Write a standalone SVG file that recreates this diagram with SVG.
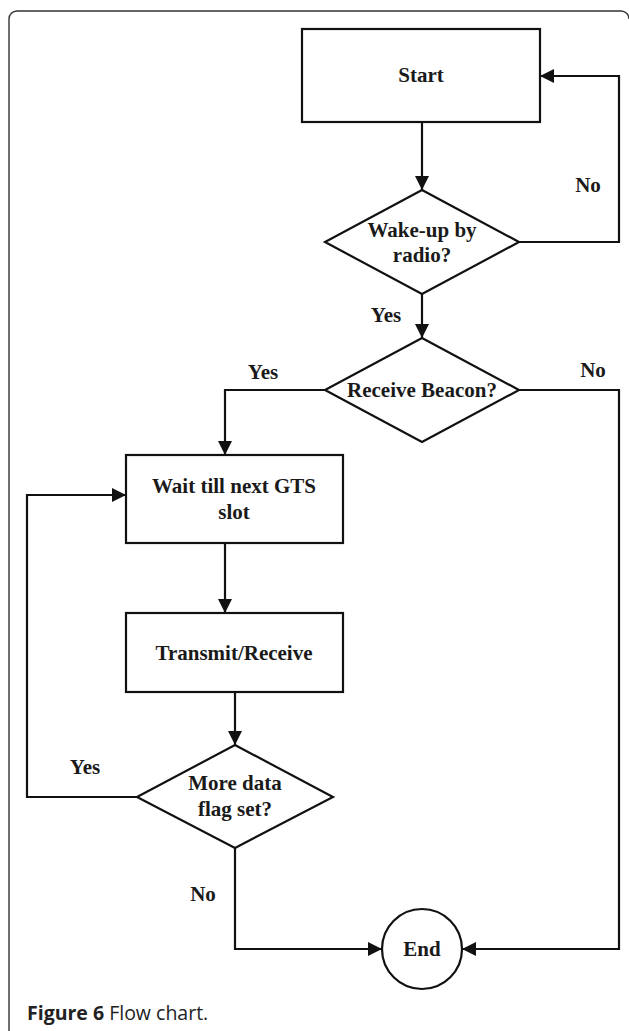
<svg xmlns="http://www.w3.org/2000/svg" width="629" height="1031" viewBox="0 0 629 1031">
<defs>
<marker id="ah" markerWidth="15" markerHeight="15" refX="14" refY="7" orient="auto" markerUnits="userSpaceOnUse">
<path d="M0,0 L14,7 L0,14 Z" fill="#111"/>
</marker>
<style>
.shape{fill:#fff;stroke:#111;stroke-width:2.2}
.conn{fill:none;stroke:#111;stroke-width:2.2}
.t{font-family:"Liberation Serif","Times New Roman",serif;font-weight:bold;font-size:21px;fill:#1a1a1a;text-anchor:middle}
.cap{font-family:"Open Sans","Noto Sans",sans-serif;font-size:19.5px;fill:#222}
</style>
</defs>
<rect width="629" height="1031" fill="#fff"/>
<path d="M9,1031 V19 A8,8 0 0 1 17,11 H621 A8,8 0 0 1 629,19" fill="none" stroke="#333" stroke-width="1.4"/>

<g id="connectors">
<path class="conn" d="M422,122 V190" marker-end="url(#ah)"/>
<path class="conn" d="M422,294 V338" marker-end="url(#ah)"/>
<path class="conn" d="M519,242 H619 V76 H540" marker-end="url(#ah)"/>
<path class="conn" d="M325,390 H225 V455" marker-end="url(#ah)"/>
<path class="conn" d="M519,390 H619 V949 H462" marker-end="url(#ah)"/>
<path class="conn" d="M225,543 V613" marker-end="url(#ah)"/>
<path class="conn" d="M235,692 V745" marker-end="url(#ah)"/>
<path class="conn" d="M137,797 H27 V495 H126" marker-end="url(#ah)"/>
<path class="conn" d="M235,848 V949 H382" marker-end="url(#ah)"/>
<text class="t" x="588" y="192">No</text>
<text class="t" x="386" y="322">Yes</text>
<text class="t" x="263" y="379">Yes</text>
<text class="t" x="593" y="377">No</text>
<text class="t" x="85" y="774">Yes</text>
<text class="t" x="203" y="901">No</text>
</g>

<g id="start">
<rect class="shape" x="302" y="29" width="238" height="93"/>
<text class="t" x="421" y="82">Start</text>
</g>

<g id="wakeup">
<polygon class="shape" points="422,190 519,242 422,294 325,242"/>
<text class="t" x="422" y="237">Wake-up by</text>
<text class="t" x="422" y="262">radio?</text>
</g>

<g id="beacon">
<polygon class="shape" points="422,338 519,390 422,442 325,390"/>
<text class="t" x="422" y="397">Receive Beacon?</text>
</g>

<g id="wait">
<rect class="shape" x="126" y="455" width="217" height="88"/>
<text class="t" x="234" y="493">Wait till next GTS</text>
<text class="t" x="234" y="519">slot</text>
</g>

<g id="transmit">
<rect class="shape" x="126" y="613" width="217" height="79"/>
<text class="t" x="234" y="660">Transmit/Receive</text>
</g>

<g id="moredata">
<polygon class="shape" points="235,745 333,797 235,848 137,797"/>
<text class="t" x="235" y="790">More data</text>
<text class="t" x="235" y="816">flag set?</text>
</g>

<g id="end">
<circle class="shape" cx="422" cy="949" r="40"/>
<text class="t" x="422" y="956">End</text>
</g>

<text class="cap" x="27" y="1020"><tspan font-weight="bold">Figure 6</tspan> Flow chart.</text>
</svg>
